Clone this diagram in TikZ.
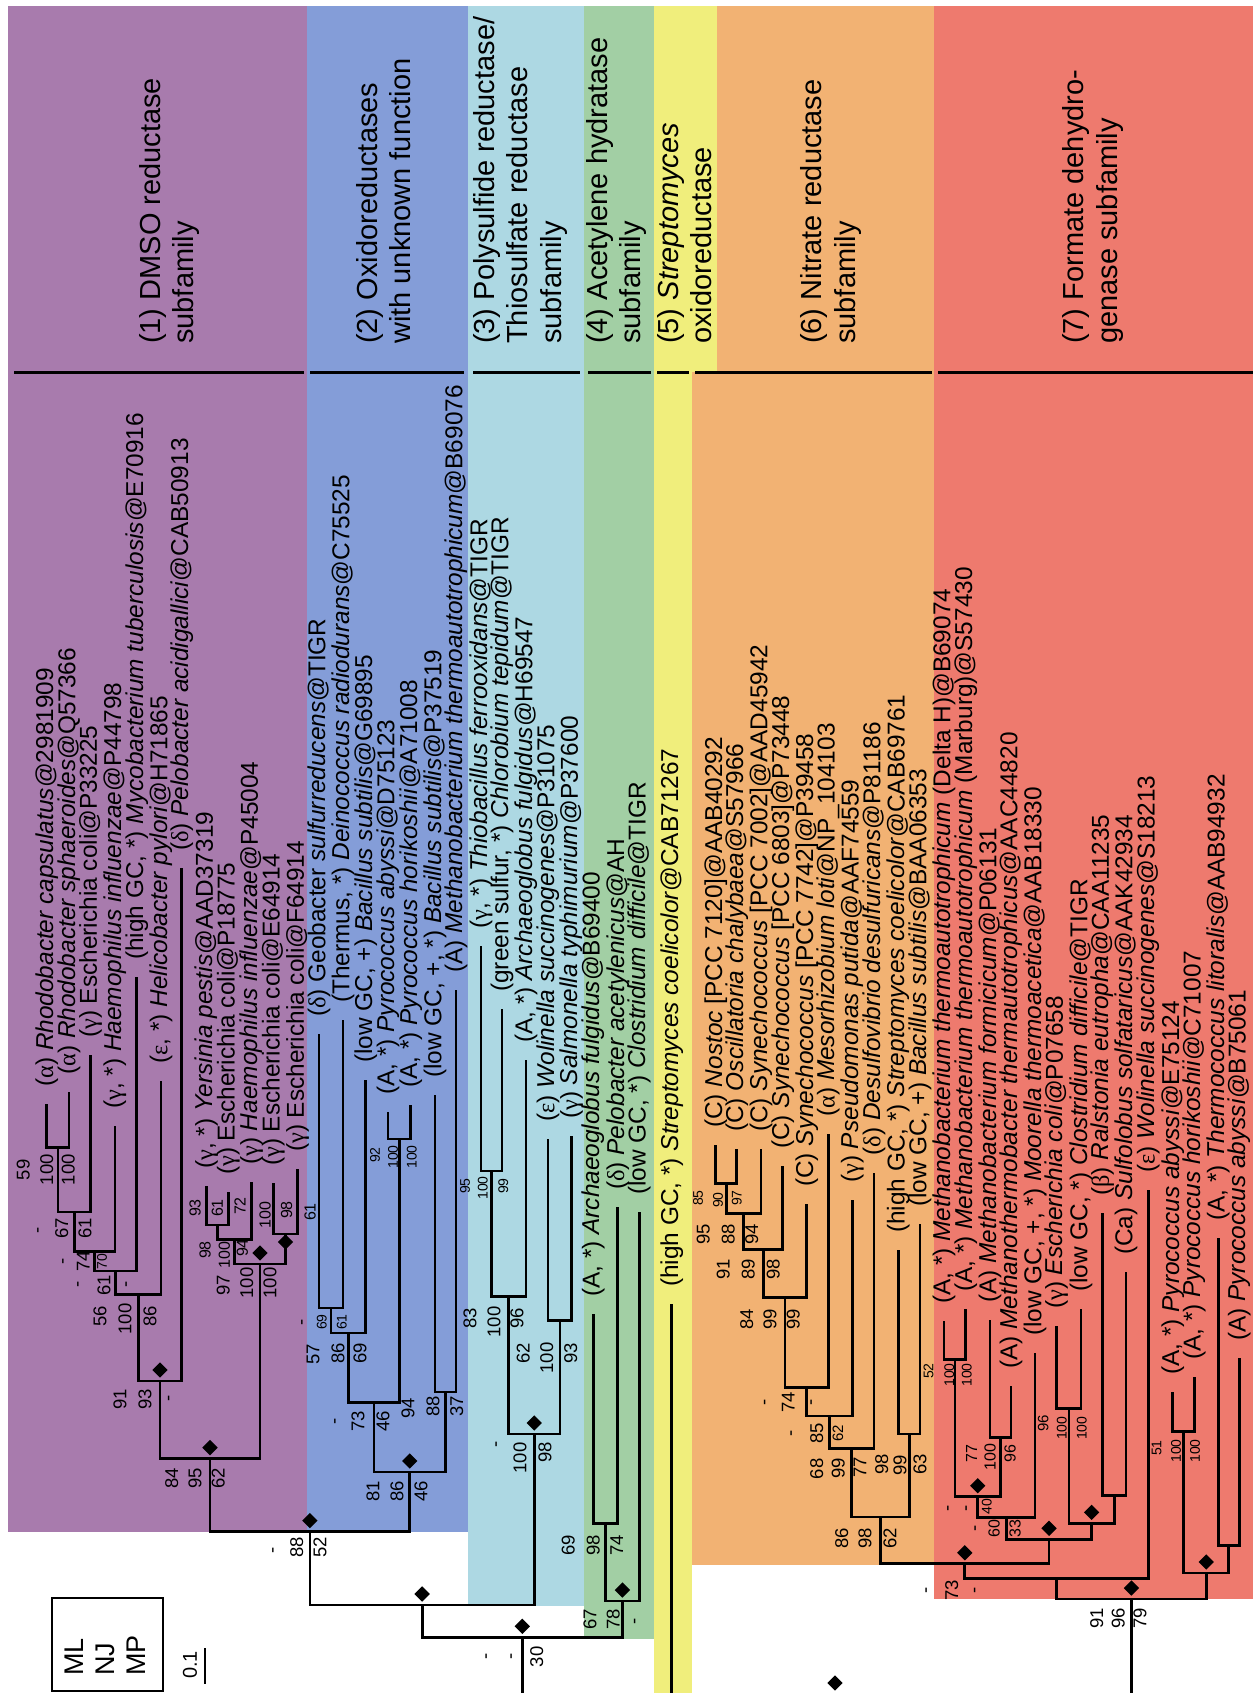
\documentclass[tikz,border=0pt]{standalone}
\usepackage{fontspec}
\setmainfont{Liberation Sans}
\newfontfamily\grk{Liberation Serif}
\usetikzlibrary{shapes.geometric,calc}
\definecolor{cpur}{RGB}{168,123,173}
\definecolor{cblu}{RGB}{132,157,216}
\definecolor{clbl}{RGB}{173,216,227}
\definecolor{cgrn}{RGB}{162,207,164}
\definecolor{cyel}{RGB}{240,238,124}
\definecolor{cora}{RGB}{242,178,115}
\definecolor{cred}{RGB}{238,122,110}
\newcommand\gk[1]{{\grk #1}}
\newcounter{bsc}
\newcommand\bs[4][18.5]{\stepcounter{bsc}\node[bsn,font=\fontsize{#1}{#1}\selectfont] (b\arabic{bsc}) at (#2,#3) {#4};}
\newcommand\lab[2]{\node[leaf] (t#1) at ($(L#1)+(0,-17)$) {#2};}
\begin{document}
\begin{tikzpicture}[x=1pt,y=-1pt,
  br/.style={line width=2.8pt},
  hl/.style={line width=3pt},
  leaf/.style={rotate=90,anchor=west,inner sep=0pt,font=\fontsize{24.4}{27}\selectfont},
  bsn/.style={rotate=90,inner sep=0pt},
  dia/.style={diamond,fill=black,inner sep=0pt,minimum size=15.5pt},
  hdr/.style={rotate=90,anchor=west,align=left,inner sep=0pt,font=\fontsize{29}{33.5}\selectfont}]
\useasboundingbox (0,0) rectangle (1253,1693);
\fill[white] (0,0) rectangle (1253,1693);
% bands
\fill[cpur] (8,6) rectangle (307,1532);
\fill[cblu] (307,6) rectangle (468,1532);
\fill[clbl] (468,6) rectangle (584,1606);
\fill[cgrn] (584,6) rectangle (654,1639);
\fill[cyel] (654,6) rectangle (717,372);
\fill[cyel] (654,372) rectangle (692,1693);
\fill[cora] (717,6) rectangle (934,372);
\fill[cora] (692,372) rectangle (934,1565);
\fill[cred] (934,6) rectangle (1253,1599);
% header lines
\draw[hl] (14,372) -- (304,372);
\draw[hl] (310,372) -- (464,372);
\draw[hl] (473,372) -- (580,372);
\draw[hl] (588,372) -- (651,372);
\draw[hl] (657,372) -- (689,372);
\draw[hl] (695,372) -- (932,372);
\draw[hl] (938,372) -- (1253,372);
% headers
\node[hdr] (h1) at (169.5,344) {(1) DMSO reductase\\subfamily};
\node[hdr] (h2) at (383.5,344) {(2) Oxidoreductases\\with unknown function};
\node[hdr] (h3) at (520,344) {(3) Polysulfide reductase/\\Thiosulfate reductase\\subfamily};
\node[hdr] (h4) at (616.5,344) {(4) Acetylene hydratase\\subfamily};
\node[hdr] (h5) at (684.5,344) {(5) \textit{Streptomyces}\\oxidoreductase};
\node[hdr] (h6) at (831,344) {(6) Nitrate reductase\\subfamily};
\node[hdr] (h7) at (1093,344) {(7) Formate dehydro-\\genase subfamily};
% leaves
\coordinate (L1) at (46.7,1104);
\coordinate (L2) at (69,1092);
\coordinate (L3) at (90.7,1055);
\coordinate (L4) at (115,1126);
\coordinate (L5) at (136.7,977);
\coordinate (L6) at (161,1081);
\coordinate (L7) at (181.7,868);
\coordinate (L8) at (206.7,1186);
\coordinate (L9) at (228.3,1192);
\coordinate (L10) at (251.7,1182);
\coordinate (L11) at (273.3,1183);
\coordinate (L12) at (297.7,1169);
\coordinate (L13) at (319,1034);
\coordinate (L14) at (343,1020);
\coordinate (L15) at (365.7,1080);
\coordinate (L16) at (388,1112);
\coordinate (L17) at (410.7,1105);
\coordinate (L18) at (435,1095);
\coordinate (L19) at (456,990);
\coordinate (L20) at (481,946);
\coordinate (L21) at (502,1009);
\coordinate (L22) at (526,1060);
\coordinate (L23) at (548,1139);
\coordinate (L24) at (571.7,1136);
\coordinate (L25) at (593.3,1314);
\coordinate (L26) at (617.7,1207);
\coordinate (L27) at (639.3,1212);
\coordinate (L28) at (671.7,1304);
\coordinate (L29) at (715.7,1145);
\coordinate (L30) at (736.7,1149);
\coordinate (L31) at (761,1149);
\coordinate (L32) at (782.7,1166);
\coordinate (L33) at (806.7,1204);
\coordinate (L34) at (828.3,1134);
\coordinate (L35) at (852.3,1200);
\coordinate (L36) at (874,1172.5);
\coordinate (L37) at (898.3,1250);
\coordinate (L38) at (920,1224);
\coordinate (L39) at (944,1321);
\coordinate (L40) at (965.7,1309);
\coordinate (L41) at (990,1320);
\coordinate (L42) at (1011,1386);
\coordinate (L43) at (1035,1353);
\coordinate (L44) at (1056.7,1326);
\coordinate (L45) at (1081,1309);
\coordinate (L46) at (1102.7,1213);
\coordinate (L47) at (1126,1272);
\coordinate (L48) at (1148.3,1190);
\coordinate (L49) at (1172.7,1392);
\coordinate (L50) at (1194.3,1377);
\coordinate (L51) at (1218.3,1238);
\coordinate (L52) at (1239.3,1358);
% internal nodes
\coordinate (na) at (57.9,1147.5);
\coordinate (nb) at (74.3,1212);
\coordinate (nc) at (94.6,1251.6);
\coordinate (nd) at (115.7,1271);
\coordinate (ne) at (138.3,1294.7);
\coordinate (nf) at (160,1381);
\coordinate (n89) at (217.5,1225);
\coordinate (n810) at (234.6,1239.3);
\coordinate (n1112) at (285.5,1234);
\coordinate (nh) at (260,1264);
\coordinate (ng) at (210,1458.6);
\coordinate (n1314) at (331,1308);
\coordinate (n15) at (348.4,1333);
\coordinate (n1617) at (399.4,1139);
\coordinate (nb3) at (373.9,1402.5);
\coordinate (n1819) at (445.5,1392);
\coordinate (nblue) at (409.7,1472);
\coordinate (nDB) at (309.9,1531.6);
\coordinate (n2021) at (491.5,1171);
\coordinate (nlb1) at (508.8,1296.7);
\coordinate (n2324) at (559.9,1320.5);
\coordinate (nlb) at (534.3,1434);
\coordinate (nB) at (422.1,1605);
\coordinate (n2526) at (605.5,1523.6);
\coordinate (ngr) at (622.4,1601);
\coordinate (nA) at (522.3,1637.3);
\coordinate (bA) at (522.3,1693);
\coordinate (bY) at (671.7,1693);
\coordinate (n2930) at (726.2,1183.2);
\coordinate (n31) at (743.6,1213.5);
\coordinate (n32) at (763.2,1249.4);
\coordinate (n33) at (785,1297.8);
\coordinate (n34) at (806.7,1387.4);
\coordinate (n35) at (829.5,1416);
\coordinate (n36) at (851.8,1448.5);
\coordinate (n3738) at (909.2,1434);
\coordinate (n38) at (880.5,1517);
\coordinate (n3940) at (954.9,1359.3);
\coordinate (n4142) at (1000.5,1437.3);
\coordinate (n40) at (977.7,1496.7);
\coordinate (n41) at (1006.4,1517.3);
\coordinate (n4445) at (1068.9,1408.3);
\coordinate (n4647) at (1114.4,1495.6);
\coordinate (ncc) at (1091.6,1523.3);
\coordinate (n42) at (1049,1539.3);
\coordinate (n39) at (964.8,1563.8);
\coordinate (n43) at (1056.6,1578.3);
\coordinate (n4950) at (1183.5,1431.2);
\coordinate (n5152) at (1228.8,1545.4);
\coordinate (npy) at (1206.2,1573);
\coordinate (nroot) at (1131.4,1599);
\coordinate (bR) at (1131.4,1693);
% branches
\draw[br] (L1) |- (na) -| (L2);
\draw[br] (na) |- (nb) -| (L3);
\draw[br] (nb) |- (nc) -| (L4);
\draw[br] (nc) |- (nd) -| (L5);
\draw[br] (nd) |- (ne) -| (L6);
\draw[br] (ne) |- (nf) -| (L7);
\draw[br] (L8) |- (n89) -| (L9);
\draw[br] (n89) |- (n810) -| (L10);
\draw[br] (L11) |- (n1112) -| (L12);
\draw[br] (n810) |- (nh) -| (n1112);
\draw[br] (nf) |- (ng) -| (nh);
\draw[br] (L13) |- (n1314) -| (L14);
\draw[br] (n1314) |- (n15) -| (L15);
\draw[br] (L16) |- (n1617) -| (L17);
\draw[br] (n15) |- (nb3) -| (n1617);
\draw[br] (L18) |- (n1819) -| (L19);
\draw[br] (nb3) |- (nblue) -| (n1819);
\draw[br] (ng) |- (nDB) -| (nblue);
\draw[br] (L20) |- (n2021) -| (L21);
\draw[br] (n2021) |- (nlb1) -| (L22);
\draw[br] (L23) |- (n2324) -| (L24);
\draw[br] (nlb1) |- (nlb) -| (n2324);
\draw[br] (nDB) |- (nB) -| (nlb);
\draw[br] (L25) |- (n2526) -| (L26);
\draw[br] (n2526) |- (ngr) -| (L27);
\draw[br] (nB) |- (nA) -| (ngr);
\draw[br] (nA) -- (bA);
\draw[br] (L28) -- (bY);
\draw[br] (L29) |- (n2930) -| (L30);
\draw[br] (n2930) |- (n31) -| (L31);
\draw[br] (n31) |- (n32) -| (L32);
\draw[br] (n32) |- (n33) -| (L33);
\draw[br] (n33) |- (n34) -| (L34);
\draw[br] (n34) |- (n35) -| (L35);
\draw[br] (n35) |- (n36) -| (L36);
\draw[br] (L37) |- (n3738) -| (L38);
\draw[br] (n36) |- (n38) -| (n3738);
\draw[br] (L39) |- (n3940) -| (L40);
\draw[br] (L41) |- (n4142) -| (L42);
\draw[br] (n3940) |- (n40) -| (n4142);
\draw[br] (n40) |- (n41) -| (L43);
\draw[br] (L44) |- (n4445) -| (L45);
\draw[br] (L46) |- (n4647) -| (L47);
\draw[br] (n4445) |- (ncc) -| (n4647);
\draw[br] (n41) |- (n42) -| (ncc);
\draw[br] (n38) |- (n39) -| (n42);
\draw[br] (n39) |- (n43) -| (L48);
\draw[br] (L49) |- (n4950) -| (L50);
\draw[br] (L51) |- (n5152) -| (L52);
\draw[br] (n4950) |- (npy) -| (n5152);
\draw[br] (n43) |- (nroot) -| (npy);
\draw[br] (nroot) -- (bR);
% diamonds
\foreach \n in {nf,ng,nh,nblue,nDB,nB,nlb,ngr,nA,n39,n40,n42,ncc,npy,nroot}
  \node[dia] (d\n) at ($(\n)+(0,-11)$) {};
\node[dia] (dn1112) at ($(n1112)+(0,8)$) {};
\node[dia] (dlone) at (835,1683) {};
% leaf labels
\lab{1}{(\gk{α}) \textit{Rhodobacter capsulatus}@2981909}
\lab{2}{(\gk{α}) \textit{Rhodobacter sphaeroides}@Q57366}
\lab{3}{(\gk{γ}) Escherichia coli@P33225}
\lab{4}{(\gk{γ}, *) \textit{Haemophilus influenzae}@P44798}
\lab{5}{(high GC, *) \textit{Mycobacterium tuberculosis}@E70916}
\lab{6}{(\gk{ε}, *) \textit{Helicobacter pylori}@H71865}
\lab{7}{(\gk{δ}) \textit{Pelobacter acidigallici}@CAB50913}
\lab{8}{(\gk{γ}, *) \textit{Yersinia pestis}@AAD37319}
\lab{9}{(\gk{γ}) Escherichia coli@P18775}
\lab{10}{(\gk{γ}) \textit{Haemophilus influenzae}@P45004}
\lab{11}{(\gk{γ}) Escherichia coli@E64914}
\lab{12}{(\gk{γ}) Escherichia coli@F64914}
\lab{13}{(\gk{δ}) Geobacter \textit{sulfurreducens}@TIGR}
\lab{14}{(Thermus, *) \textit{Deinococcus radiodurans}@C75525}
\lab{15}{(low GC, +) \textit{Bacillus subtilis}@G69895}
\lab{16}{(A, *) \textit{Pyrococcus abyssi}@D75123}
\lab{17}{(A, *) \textit{Pyrococcus horikoshii}@A71008}
\lab{18}{(low GC, +, *) \textit{Bacillus subtilis}@P37519}
\lab{19}{(A) \textit{Methanobacterium thermoautotrophicum}@B69076}
\lab{20}{(\gk{γ}, *) \textit{Thiobacillus ferrooxidans}@TIGR}
\lab{21}{(green sulfur, *) \textit{Chlorobium tepidum}@TIGR}
\lab{22}{(A, *) \textit{Archaeoglobus fulgidus}@H69547}
\lab{23}{(\gk{ε}) \textit{Wolinella succinogenes}@P31075}
\lab{24}{(\gk{γ}) \textit{Salmonella typhimurium}@P37600}
\lab{25}{(A, *) \textit{Archaeoglobus fulgidus}@B69400}
\lab{26}{(\gk{δ}) \textit{Pelobacter acetylenicus}@AH}
\lab{27}{(low GC, *) \textit{Clostridium difficile}@TIGR}
\lab{28}{(high GC, *) \textit{Streptomyces coelicolor}@CAB71267}
\lab{29}{(C) \textit{Nostoc} [PCC 7120]@AAB40292}
\lab{30}{(C) \textit{Oscillatoria chalybaea}@S57966}
\lab{31}{(C) \textit{Synechococcus} [PCC 7002]@AAD45942}
\lab{32}{(C) \textit{Synechococcus} [PCC 6803]@P73448}
\lab{33}{(C) \textit{Synechococcus} [PCC 7742]@P39458}
\lab{34}{(\gk{α}) \textit{Mesorhizobium loti}@NP\_104103}
\lab{35}{(\gk{γ}) \textit{Pseudomonas putida}@AAF74559}
\lab{36}{(\gk{δ}) \textit{Desulfovibrio desulfuricans}@P81186}
\lab{37}{(high GC, *) \textit{Streptomyces coelicolor}@CAB69761}
\lab{38}{(low GC, +) \textit{Bacillus subtilis}@BAA06353}
\lab{39}{(A, *) \textit{Methanobacterium thermoautotrophicum} (Delta H)@B69074}
\lab{40}{(A, *) \textit{Methanobacterium thermoautotrophicum} (Marburg)@S57430}
\lab{41}{(A) \textit{Methanobacterium formicicum}@P06131}
\lab{42}{(A) \textit{Methanothermobacter thermautotrophicus}@AAC44820}
\lab{43}{(low GC, +, *) \textit{Moorella thermoacetica}@AAB18330}
\lab{44}{(\gk{γ}) \textit{Escherichia coli}@P07658}
\lab{45}{(low GC, *) \textit{Clostridium difficile}@TIGR}
\lab{46}{(\gk{β}) \textit{Ralstonia eutropha}@CAA11235}
\lab{47}{(Ca) \textit{Sulfolobus solfataricus}@AAK42934}
\lab{48}{(\gk{ε}) \textit{Wolinella succinogenes}@S18213}
\lab{49}{(A, *) \textit{Pyrococcus abyssi}@E75124}
\lab{50}{(A, *) \textit{Pyrococcus horikoshii}@C71007}
\lab{51}{(A, *) \textit{Thermococcus litoralis}@AAB94932}
\lab{52}{(A) \textit{Pyrococcus abyssi}@B75061}
% bootstrap values: DMSO
\bs{23.3}{1169.7}{59} \bs{46.7}{1169.7}{100} \bs{68.3}{1169.7}{100}
\bs{40}{1230}{-} \bs{61.7}{1228}{67} \bs{85}{1228}{61}
\bs{65}{1261}{-} \bs{83.3}{1261}{74} \bs[14]{102}{1261.5}{70}
\bs{80}{1284}{-} \bs{104}{1285}{61} \bs{128.3}{1284}{-}
\bs{100}{1316}{56} \bs{125}{1319}{100} \bs{150}{1316}{86}
\bs{120}{1399}{91} \bs{145}{1399}{93} \bs{170.7}{1398}{-}
\bs[16]{195}{1208}{93} \bs[16]{217.3}{1208}{61} \bs[16]{240}{1206}{72}
\bs[16]{205}{1250}{98} \bs[16]{224.3}{1255}{100} \bs[16]{242.3}{1248}{94}
\bs[16]{265}{1215}{100} \bs[16]{286.7}{1210}{98} \bs[16]{310}{1212}{61}
\bs{223.3}{1285}{97} \bs{246.7}{1283}{100} \bs{270}{1283}{100}
\bs{171.7}{1478}{84} \bs{195}{1478}{95} \bs{218.3}{1478}{62}
% blue
\bs{304}{1322}{-} \bs[14]{321.7}{1322}{69} \bs[14]{341.7}{1322}{61}
\bs{313}{1354}{57} \bs{338}{1353}{86} \bs{360}{1353}{69}
\bs[14]{375}{1155}{92} \bs[14]{393}{1157}{100} \bs[14]{411.7}{1157}{100}
\bs{337}{1421}{-} \bs{358}{1421}{73} \bs{383}{1421}{46}
\bs{408}{1408}{94} \bs{433}{1406}{88} \bs{456.7}{1406}{37}
\bs{373}{1491}{81} \bs{397}{1491}{86} \bs{421}{1491}{46}
\bs{275}{1550}{-} \bs{296.7}{1547}{88} \bs{320}{1547}{52}
% light blue
\bs[14]{465}{1186}{95} \bs[14]{482.7}{1188}{100} \bs[14]{503.3}{1186}{99}
\bs{470}{1318}{83} \bs{494}{1322}{100} \bs{517}{1318}{96}
\bs{523.3}{1353}{62} \bs{546.7}{1358}{100} \bs{570.7}{1353}{93}
\bs{498.3}{1444}{-} \bs{520}{1458}{100} \bs{545}{1452}{98}
% green and base
\bs{568.3}{1545.5}{69} \bs{593.3}{1545.5}{98} \bs{616.7}{1545}{74}
\bs{590}{1619}{67} \bs{613.3}{1619}{78} \bs{636.7}{1621}{-}
\bs{488.3}{1656.7}{-} \bs{513.3}{1656.7}{-} \bs{536.7}{1656.7}{30}
% orange
\bs[14]{698}{1198}{85} \bs[14]{718}{1200}{90} \bs[14]{736.7}{1198}{97}
\bs{703.3}{1234}{95} \bs{728.3}{1234}{88} \bs{751.7}{1234}{94}
\bs{723.3}{1269}{91} \bs{748.3}{1269}{89} \bs{773.3}{1269}{98}
\bs{746.7}{1319}{84} \bs{770}{1319}{99} \bs{793.3}{1319}{99}
\bs{766.7}{1402.6}{-} \bs{788.3}{1402.6}{74} \bs{813.3}{1402.6}{-}
\bs{793.3}{1433}{-} \bs{816.7}{1433}{85} \bs[15]{838}{1433}{62}
\bs{816.7}{1468.8}{68} \bs{838.3}{1468.6}{99} \bs{860}{1467}{77}
\bs{881.7}{1464}{98} \bs{900}{1465}{99} \bs{920}{1464}{63}
\bs[14]{928.5}{1371}{52}
\bs{841.7}{1538}{86} \bs{865}{1538}{98} \bs{890}{1538}{62}
% red
\bs[14]{949.3}{1375}{100} \bs[14]{966.7}{1375}{100}
\bs[16]{971.7}{1453.3}{77} \bs[16]{990}{1456.7}{100} \bs[16]{1010}{1453.3}{96}
\bs{950}{1508.3}{-} \bs{968.3}{1508.3}{-} \bs[14]{986.7}{1506.7}{40}
\bs{977.3}{1528.3}{-} \bs[16]{994}{1528.3}{60} \bs[16]{1015}{1528.3}{33}
\bs[15]{1043.3}{1423.3}{96}
\bs[14]{1061.7}{1428.3}{100} \bs[14]{1081.7}{1428.3}{100}
\bs{928.3}{1590}{-} \bs{951.7}{1590}{73} \bs{976.7}{1590}{-}
\bs[14]{1156.7}{1448}{51}
\bs[14]{1176}{1451}{100} \bs[14]{1195}{1451}{100}
\bs{1096.7}{1618}{91} \bs{1118.3}{1618}{96} \bs{1140}{1618}{79}
% legend
\draw[line width=2pt] (52,1598) rectangle (163,1691);
\node[rotate=90,anchor=west,inner sep=0pt,font=\fontsize{27}{27}\selectfont] (lml) at (74,1676) {ML};
\node[rotate=90,anchor=west,inner sep=0pt,font=\fontsize{27}{27}\selectfont] (lnj) at (105,1676) {NJ};
\node[rotate=90,anchor=west,inner sep=0pt,font=\fontsize{27}{27}\selectfont] (lmp) at (136,1676) {MP};
\node[rotate=90,anchor=west,inner sep=0pt,font=\fontsize{20}{20}\selectfont] (lsc) at (190,1679) {0.1};
\coordinate (sc1) at (205,1648);
\coordinate (sc2) at (205,1684);
\draw[line width=2.2pt] (sc1) -- (sc2);
\end{tikzpicture}
\end{document}
